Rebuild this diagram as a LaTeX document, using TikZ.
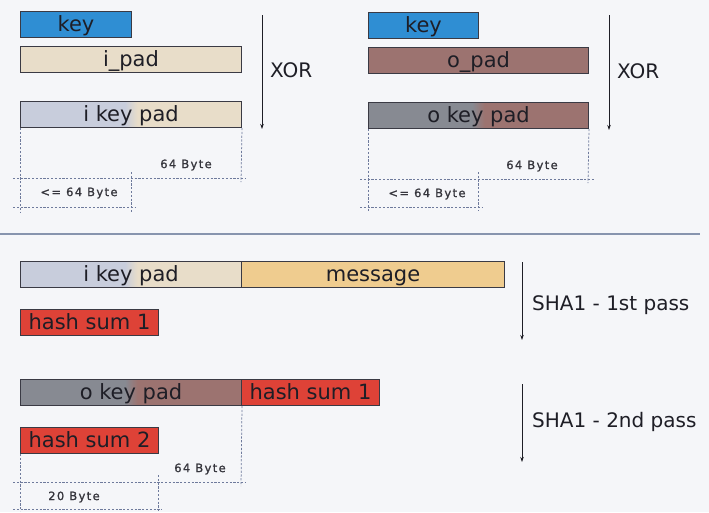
\documentclass[tikz,border=0pt]{standalone}
\usepackage{fontspec}
\setmainfont{DejaVu Sans}
\newfontfamily\smallfont[LetterSpace=12,FakeBold=1.2]{DejaVu Sans}
\usetikzlibrary{arrows.meta}
\definecolor{bg}{HTML}{F5F6F9}
\definecolor{keyblue}{HTML}{2F8ED3}
\definecolor{ipadc}{HTML}{E8DDC9}
\definecolor{ikeyl}{HTML}{C8CDDC}
\definecolor{opadc}{HTML}{9C7370}
\definecolor{okeyl}{HTML}{878A92}
\definecolor{msgc}{HTML}{EFCC8F}
\definecolor{hashc}{HTML}{DE4237}
\definecolor{boxline}{HTML}{3A3A44}
\definecolor{textc}{HTML}{1E1E26}
\definecolor{dimc}{HTML}{6E7A9C}
\definecolor{sepc}{HTML}{8794AE}
\begin{document}
\begin{tikzpicture}[x=1pt,y=-1pt,
  bar/.style={draw=boxline, line width=1pt, minimum height=26pt, inner sep=0pt,
    text height=16.5pt, text depth=3.5pt,
    anchor=north west, text=textc, font=\fontsize{21}{22}\selectfont},
  splitleft/.style n args={3}{path picture={
    \fill[#1] (path picture bounding box.south west) rectangle ([xshift=#2-6pt]path picture bounding box.north west);
    \shade[left color=#1, right color=#3] ([xshift=#2-6.5pt]path picture bounding box.south west) rectangle ([xshift=#2+6pt]path picture bounding box.north west);}},
  arr/.style={draw=textc, line width=0.8pt, -{Stealth[length=5pt,width=3.5pt]}},
  lab/.style={anchor=west, text=textc, font=\fontsize{20}{21}\selectfont, inner sep=0pt},
  dim/.style={draw=dimc, line width=0.75pt, dash pattern=on 2.2pt off 1.6pt},
  dimlab/.style={text=textc!90, font=\smallfont\fontsize{11.5}{13}\selectfont, inner sep=0pt}
]
\fill[bg] (0,0) rectangle (709,512);
\useasboundingbox (0,0) rectangle (709,512);

% ---------- top left: inner pad ----------
\node[bar, fill=keyblue, minimum width=111pt] (key1) at (20,11) {key};
\node[bar, fill=ipadc, minimum width=221pt] (ipad1) at (20,46) {i\_pad};
\node[bar, fill=ipadc, splitleft={ikeyl}{111pt}{ipadc}, minimum width=221pt] (ikp1) at (20,101) {i key pad};
\coordinate (x1s) at (262,15);
\coordinate (x1e) at (262,129);
\draw[arr] (x1s) -- (x1e);
\node[lab] (xor1) at (270,70) {XOR};
\coordinate (d1a) at (20,212);
\coordinate (d1b) at (241,182);
\coordinate (d1c) at (13,178);
\coordinate (d1d) at (246,178);
\coordinate (d1e) at (131,172);
\coordinate (d1f) at (131,212);
\coordinate (d1g) at (13,207);
\coordinate (d1h) at (136,207);
\draw[dim] (ikp1.south west) -- (d1a);
\draw[dim] (ikp1.south east) -- (d1b);
\draw[dim] (d1c) -- (d1d);
\draw[dim] (d1e) -- (d1f);
\draw[dim] (d1g) -- (d1h);
\node[dimlab] (b1a) at (186,165) {64 Byte};
\node[dimlab] (b1b) at (79,193) {<= 64 Byte};

% ---------- top right: outer pad ----------
\node[bar, fill=keyblue, minimum width=110pt] (key2) at (368,12) {key};
\node[bar, fill=opadc, minimum width=220pt] (opad2) at (368,47) {o\_pad};
\node[bar, fill=opadc, splitleft={okeyl}{110pt}{opadc}, minimum width=220pt] (okp2) at (368,102) {o key pad};
\coordinate (x2s) at (609,15);
\coordinate (x2e) at (609,130);
\draw[arr] (x2s) -- (x2e);
\node[lab] (xor2) at (617,71) {XOR};
\coordinate (d2a) at (368,212);
\coordinate (d2b) at (588,183);
\coordinate (d2c) at (360,179);
\coordinate (d2d) at (594,179);
\coordinate (d2e) at (478,172);
\coordinate (d2f) at (478,211);
\coordinate (d2g) at (360,207);
\coordinate (d2h) at (483,207);
\draw[dim] (okp2.south west) -- (d2a);
\draw[dim] (okp2.south east) -- (d2b);
\draw[dim] (d2c) -- (d2d);
\draw[dim] (d2e) -- (d2f);
\draw[dim] (d2g) -- (d2h);
\node[dimlab] (b2a) at (532,166) {64 Byte};
\node[dimlab] (b2b) at (427,194) {<= 64 Byte};

% ---------- separator ----------
\coordinate (s1) at (0,234);
\coordinate (s2) at (700,234);
\draw[sepc, line width=1.3pt] (s1) -- (s2);

% ---------- bottom: two SHA1 passes ----------
\node[bar, fill=ipadc, splitleft={ikeyl}{111pt}{ipadc}, minimum width=221pt] (ikp3) at (20,261) {i key pad};
\node[bar, fill=msgc, minimum width=263pt] (msg3) at (241,261) {message};
\node[bar, fill=hashc, minimum width=138pt] (hs1) at (20,309) {hash sum 1};
\coordinate (p1s) at (522,262);
\coordinate (p1e) at (522,340);
\draw[arr] (p1s) -- (p1e);
\node[lab] (sha1) at (532,305) {SHA1 - 1st pass};

\node[bar, fill=opadc, splitleft={okeyl}{111pt}{opadc}, minimum width=221pt] (okp4) at (20,379) {o key pad};
\node[bar, fill=hashc, minimum width=138pt] (hs1b) at (241,379) {hash sum 1};
\node[bar, fill=hashc, minimum width=138pt] (hs2) at (20,427) {hash sum 2};
\coordinate (p2s) at (522,384);
\coordinate (p2e) at (522,462);
\draw[arr] (p2s) -- (p2e);
\node[lab] (sha2) at (532,422) {SHA1 - 2nd pass};

\coordinate (d3a) at (20,511);
\coordinate (d3b) at (241,486);
\coordinate (d3c) at (13,482);
\coordinate (d3d) at (246,482);
\coordinate (d3e) at (158,475);
\coordinate (d3f) at (158,511);
\coordinate (d3g) at (13,509);
\coordinate (d3h) at (162,509);
\draw[dim] (hs2.south west) -- (d3a);
\draw[dim] (okp4.south east) -- (d3b);
\draw[dim] (d3c) -- (d3d);
\draw[dim] (d3e) -- (d3f);
\draw[dim] (d3g) -- (d3h);
\node[dimlab] (b3a) at (200,469) {64 Byte};
\node[dimlab] (b3b) at (74,497) {20 Byte};
\end{tikzpicture}
\end{document}
